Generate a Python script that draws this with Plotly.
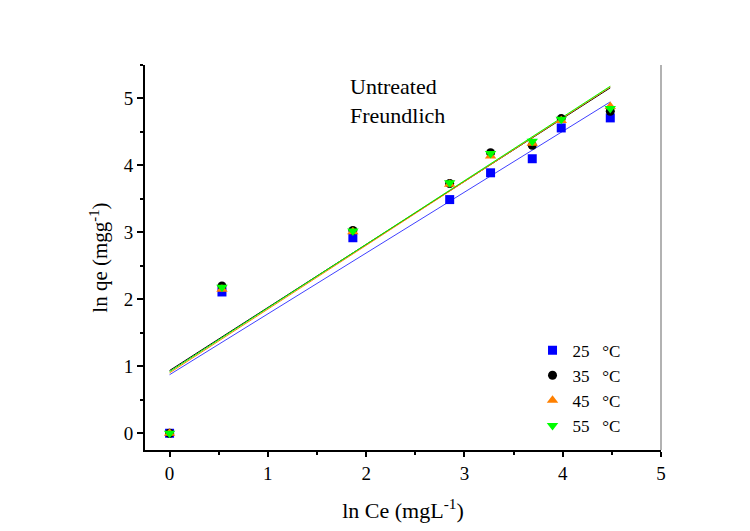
import numpy as np
import plotly.graph_objects as go

# ln Ce values (shared by all temperatures)
ln_ce = [0.0, 0.533, 1.865, 2.85, 3.266, 3.69, 3.985, 4.484]

# ln qe values per temperature
qe_25 = [0.0, 2.11, 2.92, 3.49, 3.89, 4.10, 4.56, 4.71]
qe_35 = [0.0, 2.20, 3.03, 3.73, 4.19, 4.30, 4.70, 4.81]
qe_45 = [0.0, 2.15, 3.01, 3.72, 4.14, 4.33, 4.67, 4.88]
qe_55 = [0.0, 2.18, 3.02, 3.74, 4.18, 4.36, 4.69, 4.85]

labels = ["25\u00a0\u00a0\u00a0°C", "35\u00a0\u00a0\u00a0°C", "45\u00a0\u00a0\u00a0°C", "55\u00a0\u00a0\u00a0°C"]
series = [qe_25, qe_35, qe_45, qe_55]
marker_colors = ["#0000ff", "#000000", "#ff8000", "#00ff00"]
line_colors = ["#4040ff", "#000000", "#ff8000", "#00ff00"]
symbols = ["square", "circle", "triangle-up", "triangle-down"]

FONT = "Liberation Serif, Times New Roman, serif"

fig = go.Figure()

# Linear Freundlich fits, drawn beneath the measured points
x = np.array(ln_ce)
for ys, lc in zip(series, line_colors):
    slope, intercept = np.polyfit(x, np.array(ys), 1)
    xf = np.array([x.min(), x.max()])
    fig.add_trace(go.Scatter(
        x=xf, y=intercept + slope * xf, mode="lines",
        line=dict(color=lc, width=1), showlegend=False, hoverinfo="skip"))

for ys, name, mc, sym in zip(series, labels, marker_colors, symbols):
    fig.add_trace(go.Scatter(
        x=ln_ce, y=ys, mode="markers", name=name,
        marker=dict(symbol=sym, size=10 if "triangle" in sym else 9, color=mc, line=dict(width=0))))

fig.add_annotation(
    x=1.82, y=5.40, xref="x", yref="y", xanchor="left", yanchor="top",
    text="Untreated<br>Freundlich", showarrow=False, align="left",
    font=dict(family=FONT, size=22, color="black"))

# thin grey frame line on the right side
fig.add_shape(type="line", xref="paper", yref="paper", x0=1, x1=1, y0=0, y1=1,
              line=dict(color="#999999", width=1.5))

fig.update_layout(
    width=750, height=531,
    margin=dict(l=145, r=89, t=65, b=81),
    paper_bgcolor="white", plot_bgcolor="white",
    font=dict(family=FONT, size=19, color="black"),
    legend=dict(x=0.751, y=0.305, xanchor="left", yanchor="top",
                bgcolor="rgba(0,0,0,0)", font=dict(family=FONT, size=17),
                tracegroupgap=0),
)

fig.update_xaxes(
    range=[-0.25, 5], showgrid=False, zeroline=False,
    showline=True, linecolor="black", linewidth=2,
    ticks="outside", ticklen=5, tickwidth=1.5, tickcolor="black",
    tickvals=[0, 1, 2, 3, 4, 5],
    minor=dict(tickvals=[0.5, 1.5, 2.5, 3.5, 4.5], ticks="outside", ticklen=3, tickwidth=1.5, tickcolor="black"),
    tickfont=dict(family=FONT, size=19),
    title=dict(text="ln Ce (mgL<sup>-1</sup>)", font=dict(family=FONT, size=22), standoff=20),
)
fig.update_yaxes(
    range=[-0.25, 5.5], showgrid=False, zeroline=False,
    showline=True, linecolor="black", linewidth=2,
    ticks="outside", ticklen=6, tickwidth=1.5, tickcolor="black",
    tickvals=[0, 1, 2, 3, 4, 5],
    minor=dict(tickvals=[0.5, 1.5, 2.5, 3.5, 4.5, 5.5], ticks="outside", ticklen=3, tickwidth=1.5, tickcolor="black"),
    tickfont=dict(family=FONT, size=19),
    title=dict(text="ln qe (mgg<sup>-1</sup>)", font=dict(family=FONT, size=21), standoff=10),
)

fig.write_html("out.html")
